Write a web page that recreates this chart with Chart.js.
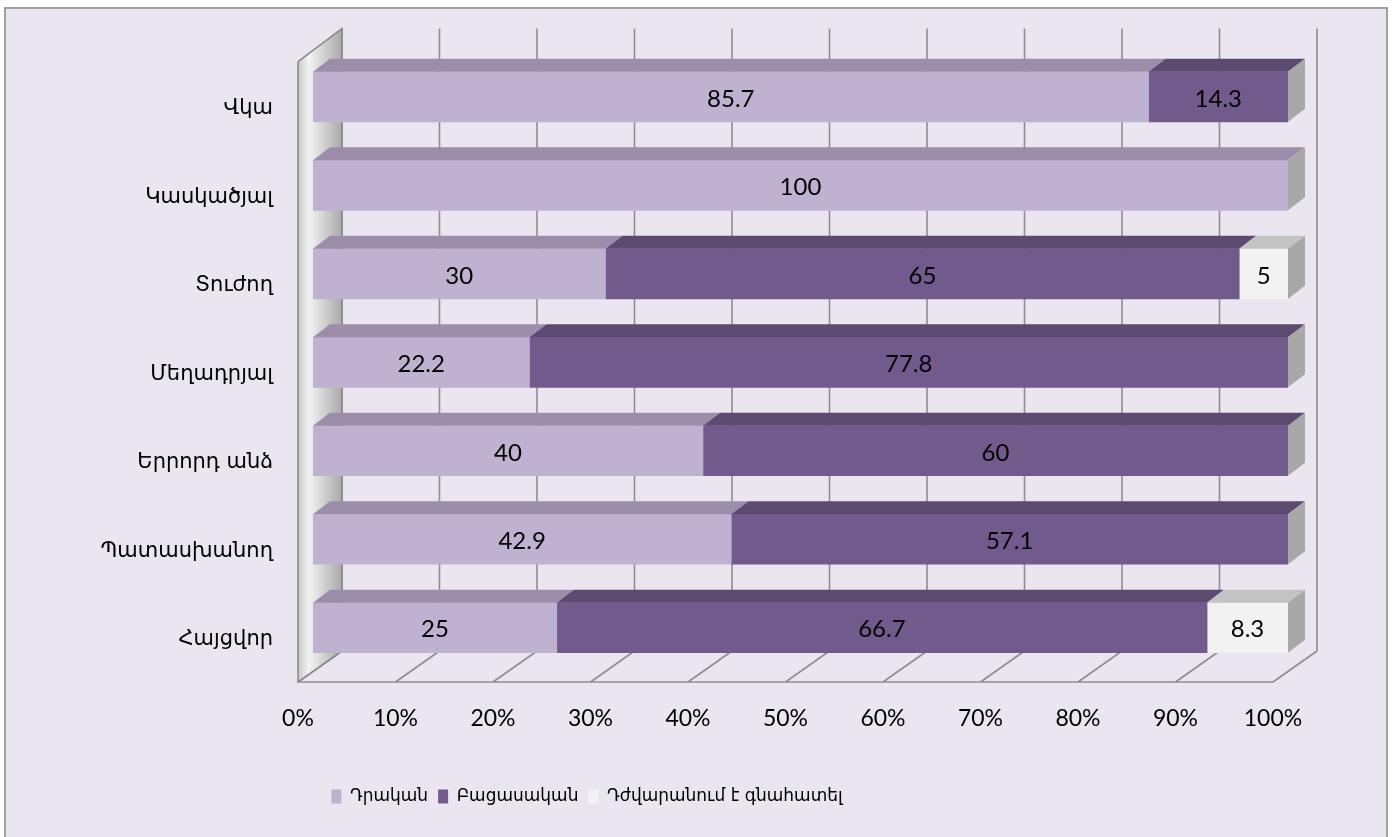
<!DOCTYPE html>
<html>
<head>
<meta charset="utf-8">
<script src="https://cdn.jsdelivr.net/npm/chart.js@4/dist/chart.umd.min.js"></script>
<style>
html,body{margin:0;padding:0;background:#fff;}
#wrap{width:1399px;height:837px;position:relative;}
</style>
</head>
<body>
<div id="wrap"><canvas id="c" width="1399" height="837"></canvas></div>
<script>
// ---- data ----
const categories = ['Վկա', 'Կասկածյալ', 'Տուժող', 'Մեղադրյալ', 'Երրորդ անձ', 'Պատասխանող', 'Հայցվոր'];
const positiveValues = [85.7, 100, 30, 22.2, 40, 42.9, 25];
const negativeValues = [14.3, 0, 65, 77.8, 60, 57.1, 66.7];
const hardValues = [0, 0, 5, 0, 0, 0, 8.3];
const seriesNames = ['Դրական', 'Բացասական', 'Դժվարանում է գնահատել'];
const xTickValues = [0, 10, 20, 30, 40, 50, 60, 70, 80, 90, 100];

// ---- styles ----
const BG = '#EBE5F0';
const frontColors = ['#BFB1D0', '#725A8C', '#F2F2F2'];
const topColors = ['#9C8DAB', '#5C4A71', '#C3C3C3'];
const SIDE = '#A8A8A8';
const DEPTH_X = 17, DEPTH_Y = 13;
const GRID = '#8E8E8E';

const threeD = {
  id: 'threeD',
  beforeDraw(chart) {
    const ctx = chart.ctx;
    ctx.save();
    ctx.fillStyle = '#ffffff';
    ctx.fillRect(0, 0, chart.width, chart.height);
    ctx.fillStyle = BG;
    ctx.fillRect(5, 8, 1382, 840);
    ctx.strokeStyle = '#A0A0A0';
    ctx.lineWidth = 2;
    ctx.strokeRect(5, 8, 1382, 840);
    ctx.restore();
  },
  beforeDatasetsDraw(chart) {
    const ctx = chart.ctx;
    const xs = chart.scales.x;
    const a = chart.chartArea;
    const backTop = a.top - 24, backBot = a.bottom - 21, frontBot = a.bottom + 10;
    const backX = v => xs.getPixelForValue(v) + 29;
    const frontX = v => xs.getPixelForValue(v) - 15;
    ctx.save();
    // floor
    ctx.strokeStyle = GRID;
    ctx.lineWidth = 1.6;
    ctx.beginPath();
    xTickValues.forEach(v => {
      ctx.moveTo(backX(v), backBot);
      ctx.lineTo(frontX(v), frontBot);
    });
    ctx.moveTo(frontX(0), frontBot);
    ctx.lineTo(frontX(100), frontBot);
    ctx.stroke();
    // back wall grid lines
    ctx.beginPath();
    xTickValues.forEach(v => {
      ctx.moveTo(backX(v), backTop);
      ctx.lineTo(backX(v), backBot);
    });
    ctx.stroke();
    // left wall
    const wx0 = frontX(0), wx1 = backX(0);
    const wallTopFront = a.top + 9;
    const g = ctx.createLinearGradient(wx0, 0, wx1, 0);
    g.addColorStop(0, '#C8C8C8');
    g.addColorStop(0.25, '#F4F4F4');
    g.addColorStop(0.6, '#D0D0D0');
    g.addColorStop(1, '#A8A8A8');
    ctx.fillStyle = g;
    ctx.beginPath();
    ctx.moveTo(wx0, wallTopFront);
    ctx.lineTo(wx1, backTop);
    ctx.lineTo(wx1, backBot);
    ctx.lineTo(wx0, frontBot);
    ctx.closePath();
    ctx.fill();
    ctx.strokeStyle = '#8A8A8A';
    ctx.lineWidth = 1.6;
    ctx.stroke();
    ctx.restore();
  },
  afterDatasetsDraw(chart) {
    const ctx = chart.ctx;
    ctx.save();
    const n = chart.data.labels.length;
    const rowEnd = new Array(n).fill(null);
    chart.data.datasets.forEach((ds, di) => {
      const meta = chart.getDatasetMeta(di);
      meta.data.forEach((el, i) => {
        const v = ds.data[i];
        if (!v) return;
        const p = el.getProps(['x', 'y', 'base', 'height'], true);
        const top = p.y - p.height / 2;
        ctx.fillStyle = topColors[di];
        ctx.beginPath();
        ctx.moveTo(p.base, top);
        ctx.lineTo(p.x, top);
        ctx.lineTo(p.x + DEPTH_X, top - DEPTH_Y);
        ctx.lineTo(p.base + DEPTH_X, top - DEPTH_Y);
        ctx.closePath();
        ctx.fill();
        if (!rowEnd[i] || p.x > rowEnd[i].x) rowEnd[i] = p;
      });
    });
    rowEnd.forEach(p => {
      if (!p) return;
      const top = p.y - p.height / 2, bot = p.y + p.height / 2;
      ctx.fillStyle = SIDE;
      ctx.beginPath();
      ctx.moveTo(p.x, top);
      ctx.lineTo(p.x + DEPTH_X, top - DEPTH_Y);
      ctx.lineTo(p.x + DEPTH_X, bot - DEPTH_Y);
      ctx.lineTo(p.x, bot);
      ctx.closePath();
      ctx.fill();
    });
    // value labels
    ctx.fillStyle = '#000';
    ctx.font = '24px Lato';
    ctx.textAlign = 'center';
    ctx.textBaseline = 'middle';
    chart.data.datasets.forEach((ds, di) => {
      const meta = chart.getDatasetMeta(di);
      meta.data.forEach((el, i) => {
        const v = ds.data[i];
        if (!v) return;
        const p = el.getProps(['x', 'y', 'base'], true);
        ctx.fillText(String(v), (p.x + p.base) / 2, p.y + 2);
      });
    });
    ctx.restore();
  },
  afterLayout(chart) {
    const lg = chart.legend;
    if (lg) {
      const shift = -61;
      lg.left += shift;
      lg.right += shift;
    }
  }
};

const datasets = [positiveValues, negativeValues, hardValues].map((d, i) => ({
  label: seriesNames[i],
  data: d,
  backgroundColor: frontColors[i],
  borderWidth: 0,
  barThickness: 50
}));

new Chart(document.getElementById('c'), {
  type: 'bar',
  data: { labels: categories, datasets },
  plugins: [threeD],
  options: {
    indexAxis: 'y',
    responsive: false,
    animation: false,
    layout: { padding: { top: 50, left: 8, right: 111, bottom: 22 } },
    scales: {
      x: {
        stacked: true,
        min: 0, max: 100,
        afterBuildTicks(scale) { scale.ticks = xTickValues.map(v => ({ value: v })); },
        afterFit(scale) { scale.height = 106; },
        grid: { display: false, drawTicks: false },
        border: { display: false },
        ticks: {
          padding: 33,
          labelOffset: -15,
          color: '#000',
          font: { family: 'Lato', size: 23 },
          callback: v => v + '%'
        }
      },
      y: {
        stacked: true,
        afterFit(scale) { scale.width = 305; },
        grid: { display: false, drawTicks: false },
        border: { display: false },
        ticks: {
          padding: 40,
          labelOffset: 12,
          color: '#000',
          font: { family: 'DejaVu Sans', size: 21 }
        }
      }
    },
    plugins: {
      title: { display: false },
      tooltip: { enabled: false },
      legend: {
        position: 'bottom',
        labels: {
          boxWidth: 10,
          boxHeight: 14,
          padding: 10,
          color: '#000',
          font: { family: 'DejaVu Sans', size: 17 }
        }
      }
    }
  }
});
</script>
</body>
</html>
